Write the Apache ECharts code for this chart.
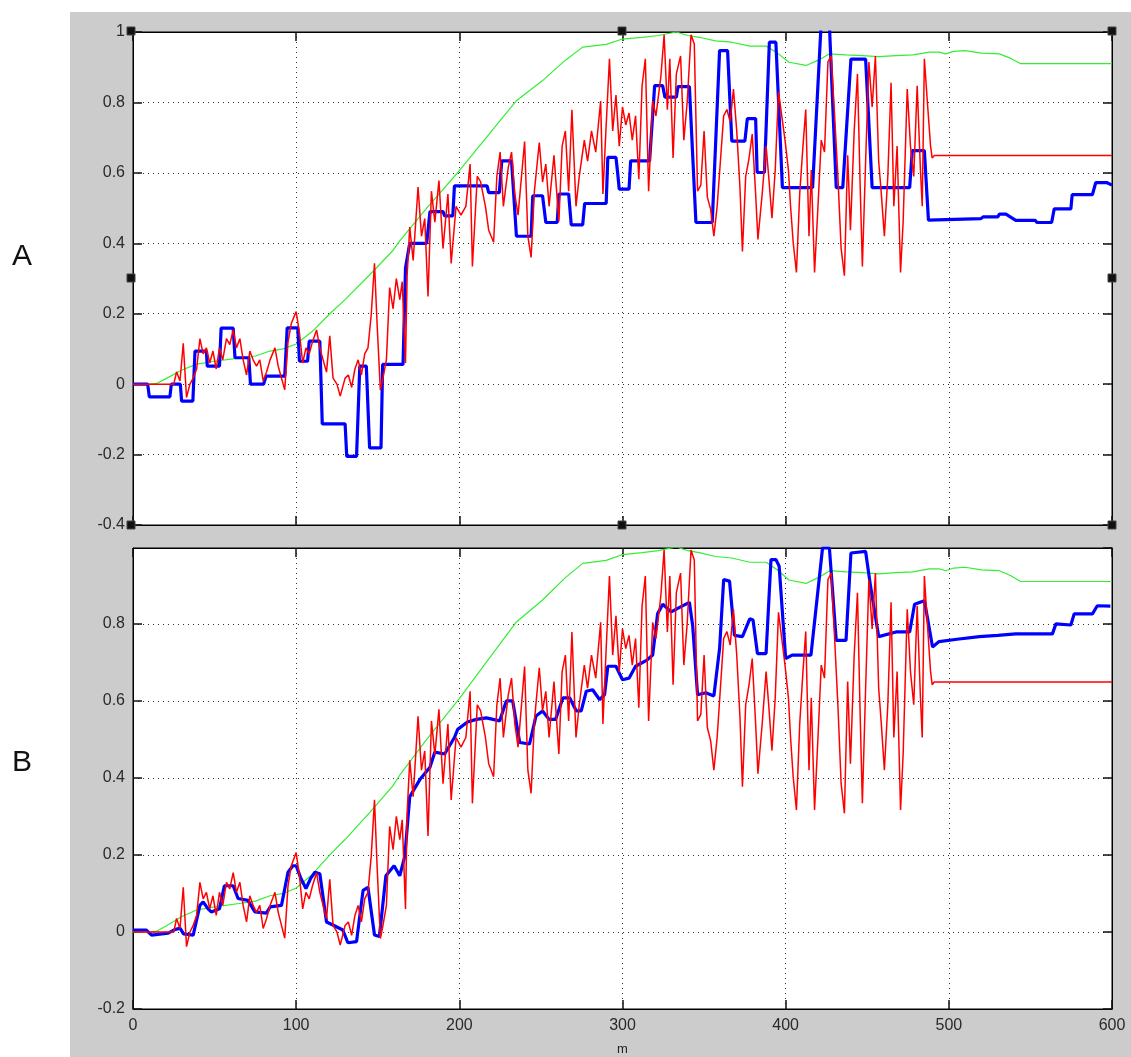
<!DOCTYPE html>
<html><head><meta charset="utf-8">
<script src="https://cdn.jsdelivr.net/npm/echarts@6/dist/echarts.min.js"></script>
<style>html,body{margin:0;padding:0;background:#fff}#c{width:1131px;height:1057px}</style>
</head><body><div id="c"></div>
<script>
const panelLabels = ['A', 'B'];
const xAxisName = 'm';
const xRange = [0, 600, 100];
const yRangeA = [-0.4, 1, 0.2];
const yRangeB = [-0.2, 0.997, 0.2];

const green = [[0,0],[10,0],[14.5,0.002],[20,0.015],[30,0.04],[39,0.057],[50,0.065],[65,0.074],[75,0.08],[84,0.094],[92,0.1],[100,0.114],[110,0.15],[120.6,0.2],[130,0.24],[145,0.31],[159,0.378],[163.5,0.407],[180,0.5],[200,0.606],[220,0.72],[235,0.805],[251,0.862],[265,0.92],[275.6,0.957],[290,0.965],[300,0.98],[312,0.985],[322,0.99],[333,1.0],[340,0.99],[347,0.985],[357,0.975],[367,0.971],[378,0.96],[388,0.96],[395,0.94],[402,0.914],[412.5,0.905],[420,0.92],[427,0.938],[437,0.935],[447,0.933],[457,0.93],[467.6,0.933],[478,0.935],[488,0.943],[494,0.943],[498,0.938],[503,0.945],[510,0.947],[520,0.94],[531,0.938],[538,0.925],[544,0.91],[600,0.91]];

const red = [[0,0],[25,0],[26.7,0.035],[28.8,0.009],[30.8,0.116],[32.8,-0.038],[34.9,0],[36.9,0.017],[39,0.043],[41,0.129],[43,0.086],[45,0.103],[47,0.06],[49,0.094],[51,0.043],[53,0.103],[55,0.069],[57.3,0.129],[59.3,0.112],[61.4,0.154],[63.4,0.103],[65.5,0.129],[67.5,0.069],[69.6,0.026],[71.6,0.094],[73.6,0.069],[75.7,0.051],[77.7,0.069],[79.8,0.009],[81.8,0.034],[84,0.069],[87,0.103],[89,0.051],[91,0.017],[93,-0.016],[95,0.12],[97,0.172],[100,0.206],[102,0.146],[104,0.06],[106,0.103],[108,0.086],[110,0.12],[112.5,0.154],[114.5,0.103],[116.5,0.069],[118.6,0.034],[120.6,0.137],[122.6,0.017],[125,0],[127,-0.034],[130,0.017],[132,0.026],[134,-0.009],[136,0.043],[138,0.069],[140,0.026],[142,0.086],[144,0.103],[146,0.197],[148,0.343],[149.6,0.171],[151.6,-0.017],[153.2,0.017],[155.3,0.069],[157.3,0.274],[159.4,0.214],[161.4,0.3],[163.5,0.24],[165,0.291],[167,0.06],[168,0.308],[169.6,0.446],[171.7,0.351],[174.7,0.56],[176.8,0.42],[178.8,0.47],[180.8,0.249],[182.9,0.548],[185,0.46],[187.5,0.578],[190,0.385],[193,0.54],[195,0.343],[198,0.505],[201,0.48],[204,0.505],[206.6,0.625],[208,0.334],[211,0.59],[213,0.575],[216,0.505],[218,0.437],[221,0.403],[223,0.59],[225,0.659],[227,0.505],[230,0.616],[232,0.659],[234,0.54],[236,0.48],[240,0.689],[242,0.42],[244,0.36],[246,0.548],[249,0.686],[251,0.574],[253,0.625],[255,0.505],[258,0.65],[261,0.462],[263,0.676],[265,0.719],[267,0.548],[269,0.779],[271.5,0.505],[273.5,0.59],[276.6,0.693],[278.6,0.633],[281,0.719],[283.6,0.659],[286.6,0.804],[288,0.54],[290,0.736],[292,0.924],[294,0.719],[296,0.821],[298,0.676],[300,0.787],[302,0.736],[304,0.77],[306,0.693],[308,0.762],[310,0.582],[312,0.847],[314,0.924],[316,0.548],[318.5,0.804],[320.5,0.762],[323.5,0.873],[325.5,0.992],[327.5,0.779],[329,0.924],[331,0.642],[333,0.881],[335.6,0.932],[337.6,0.693],[339.7,0.804],[342,0.992],[344,0.966],[346,0.548],[348,0.565],[350,0.719],[352,0.531],[354,0.497],[356,0.42],[358,0.505],[360,0.633],[362,0.762],[364,0.78],[366,0.745],[368,0.838],[370,0.72],[372,0.557],[373.5,0.377],[375.5,0.59],[377.5,0.64],[379.5,0.71],[381.6,0.54],[383,0.411],[385.6,0.54],[388,0.676],[389.6,0.59],[391.6,0.471],[393.6,0.608],[395.6,0.83],[397.6,0.762],[399.6,0.693],[401.7,0.608],[403,0.505],[404.6,0.403],[406.6,0.317],[408.6,0.54],[410.6,0.676],[412.3,0.78],[414.3,0.42],[415.7,0.608],[417.7,0.317],[419.8,0.505],[421.8,0.693],[423.8,0.659],[425.9,0.915],[427.9,0.932],[430,0.762],[432,0.59],[434,0.385],[436,0.308],[438,0.65],[439.7,0.437],[442,0.72],[444,0.881],[445.6,0.574],[447,0.334],[449,0.633],[451,0.915],[453,0.787],[455,0.932],[457,0.633],[458.5,0.548],[460.5,0.42],[462.6,0.59],[464.6,0.856],[466.3,0.505],[468.3,0.676],[470.4,0.317],[472,0.462],[474.5,0.838],[476.5,0.676],[478.5,0.59],[480.6,0.847],[482.6,0.608],[483.7,0.505],[485,0.924],[486.8,0.804],[488.8,0.676],[489.8,0.642],[491,0.649],[600,0.649]];

const blueA = [[0,0],[9,0],[10,-0.036],[22.6,-0.036],[23.5,0],[29,0],[29.8,-0.048],[36.7,-0.048],[38,0.094],[45,0.094],[45.5,0.051],[53,0.051],[54,0.159],[61.4,0.159],[62.5,0.075],[71,0.075],[72,0],[80,0],[81.6,0.023],[93,0.023],[94.5,0.16],[101,0.16],[102,0.065],[107,0.065],[108,0.122],[114.5,0.122],[116,-0.113],[130,-0.113],[131,-0.205],[137,-0.205],[139,0.051],[143,0.051],[145,-0.181],[152,-0.181],[153,0.056],[165.5,0.056],[167,0.33],[169.6,0.40],[180,0.40],[182,0.49],[190,0.49],[191,0.478],[196,0.478],[197,0.563],[217,0.563],[218,0.544],[224.5,0.544],[226,0.634],[232,0.634],[235,0.42],[244,0.42],[245,0.535],[251,0.535],[253,0.459],[260,0.459],[261,0.54],[267,0.54],[268.6,0.452],[275.6,0.452],[276.8,0.513],[290,0.513],[291,0.644],[296,0.644],[297,0.601],[298,0.554],[304,0.554],[305,0.634],[316.6,0.634],[319.7,0.848],[324.6,0.848],[326,0.815],[333,0.815],[334,0.845],[341,0.845],[345,0.459],[355,0.459],[359.5,0.947],[364.4,0.947],[367,0.69],[375,0.69],[376.5,0.754],[381.6,0.754],[382.5,0.601],[387,0.601],[390,0.971],[394,0.971],[398,0.558],[416.5,0.558],[421.7,1.02],[426.8,1.02],[431,0.558],[435,0.558],[440,0.923],[449,0.923],[453,0.558],[476,0.558],[477.6,0.663],[485,0.663],[487.5,0.466],[519.7,0.47],[521,0.475],[530,0.475],[531,0.483],[535,0.483],[541,0.465],[553,0.465],[554,0.459],[563,0.459],[564.6,0.498],[574.8,0.498],[575.6,0.538],[588,0.538],[590,0.572],[597,0.572],[600,0.565]];

const blueB = [[0,0.005],[8,0.005],[11.4,-0.008],[21.6,-0.003],[25,0.005],[28.8,0.01],[31,-0.005],[36.9,-0.008],[41,0.069],[43,0.078],[46,0.06],[48,0.052],[53,0.06],[56,0.12],[61.4,0.12],[64.4,0.087],[70.4,0.082],[74.7,0.052],[81.8,0.049],[84,0.065],[91,0.069],[95,0.155],[98,0.172],[100,0.172],[103,0.138],[106,0.113],[109,0.14],[111.5,0.155],[114.5,0.151],[118.6,0.026],[122.5,0.018],[128.6,0.005],[131.7,-0.028],[137,-0.025],[141,0.108],[144,0.116],[148,-0.008],[151,-0.012],[155,0.146],[160,0.172],[163.5,0.146],[166.6,0.197],[169.6,0.351],[175.7,0.395],[182,0.428],[185,0.467],[191,0.462],[197,0.505],[199,0.526],[205,0.545],[210.4,0.552],[216.6,0.556],[224.7,0.548],[228.8,0.6],[232.7,0.6],[237,0.492],[243,0.488],[247,0.561],[251,0.574],[255,0.552],[259,0.552],[263.5,0.608],[267.6,0.608],[271.7,0.574],[274.7,0.574],[277.8,0.625],[281.7,0.629],[286,0.603],[289,0.616],[291,0.69],[296,0.69],[300,0.655],[304,0.659],[308,0.69],[315,0.706],[318.5,0.719],[321.5,0.826],[324.7,0.851],[329.8,0.831],[335,0.843],[341,0.856],[343,0.796],[346,0.616],[351,0.621],[356,0.613],[359.5,0.736],[362,0.915],[365.6,0.911],[368.6,0.77],[373.5,0.767],[378,0.813],[380,0.81],[382.7,0.723],[388,0.723],[391,0.967],[394,0.967],[396,0.95],[400,0.71],[404,0.719],[415.5,0.719],[422.6,0.997],[426.8,0.997],[431,0.757],[437,0.757],[440,0.984],[449,0.988],[452,0.898],[457,0.767],[467.6,0.779],[476,0.779],[479,0.851],[485,0.86],[487,0.813],[490,0.74],[494,0.754],[505,0.76],[518.7,0.767],[530,0.77],[541,0.774],[563.5,0.774],[565.6,0.8],[574.8,0.797],[576.8,0.826],[588,0.826],[591,0.847],[599,0.846]];

const FONT = '"Liberation Sans", Arial, Helvetica, sans-serif';
const chart = echarts.init(document.getElementById('c'), null, {renderer: 'canvas'});

function xAx(gi, pos, withLabels) {
  return {
    type: 'value', gridIndex: gi, position: pos,
    min: xRange[0], max: xRange[1], interval: xRange[2],
    axisLine: {show: true, onZero: false, lineStyle: {color: '#000', width: 1}},
    axisTick: {show: true, inside: true, length: 9, lineStyle: {color: '#111', width: 1.5}},
    axisLabel: {show: withLabels, color: '#2a2a2a', fontSize: 16, fontFamily: FONT, margin: 9},
    splitLine: {show: pos === 'bottom', lineStyle: {color: '#333', type: [1, 4], width: 1}},
    name: withLabels ? xAxisName : '', nameLocation: 'middle', nameGap: 34,
    nameTextStyle: {color: '#222', fontSize: 13, fontFamily: FONT}
  };
}
function yAx(gi, pos, r, withLabels) {
  return {
    type: 'value', gridIndex: gi, position: pos,
    min: r[0], max: r[1], interval: r[2],
    axisLine: {show: true, onZero: false, lineStyle: {color: '#000', width: 1}},
    axisTick: {show: true, inside: true, length: 9, lineStyle: {color: '#111', width: 1.5}},
    axisLabel: {show: withLabels, color: '#2a2a2a', fontSize: 16, fontFamily: FONT, margin: 8,
      showMaxLabel: r[1] === 1},
    splitLine: {show: pos === 'left', lineStyle: {color: '#333', type: [1, 4], width: 1}}
  };
}
function line(data, xi, yi, color, width) {
  return {type: 'line', xAxisIndex: xi, yAxisIndex: yi, data: data, showSymbol: false,
    symbol: 'none', clip: true, silent: true, animation: false,
    lineStyle: {color: color, width: width}};
}

const handles = [[131,31],[622,31],[1112,31],[131,278],[1112,278],[131,525],[622,525],[1112,525]];

chart.setOption({
  backgroundColor: '#cccccc',
  animation: false,
  grid: [
    {left: 133, top: 32, width: 979, height: 493, show: true, backgroundColor: '#fff', borderColor: '#000', borderWidth: 1},
    {left: 133, top: 548, width: 979, height: 467, show: true, backgroundColor: '#fff', borderColor: '#000', borderWidth: 1}
  ],
  xAxis: [xAx(0, 'bottom', false), xAx(0, 'top', false), xAx(1, 'bottom', true), xAx(1, 'top', false)],
  yAxis: [yAx(0, 'left', yRangeA, true), yAx(0, 'right', yRangeA, false), yAx(1, 'left', yRangeB, true), yAx(1, 'right', yRangeB, false)],
  series: [
    line(green, 0, 0, '#33ee33', 1.2),
    line(blueA, 0, 0, '#0000ff', 3.2),
    line(red, 0, 0, '#ff0000', 1.5),
    line(green, 2, 2, '#33ee33', 1.2),
    line(blueB, 2, 2, '#0000ff', 3.2),
    line(red, 2, 2, '#ff0000', 1.5)
  ],
  graphic: [
    {type: 'rect', shape: {x: 0, y: 0, width: 70, height: 1057}, style: {fill: '#fff'}, z: 100, silent: true},
    {type: 'rect', shape: {x: 0, y: 0, width: 1131, height: 12}, style: {fill: '#fff'}, z: 100, silent: true},
    {type: 'text', x: 22, y: 257, style: {text: panelLabels[0], font: '30px ' + FONT, fill: '#111', textAlign: 'center', textVerticalAlign: 'middle'}, z: 101},
    {type: 'text', x: 22, y: 763, style: {text: panelLabels[1], font: '30px ' + FONT, fill: '#111', textAlign: 'center', textVerticalAlign: 'middle'}, z: 101}
  ].concat(handles.map(function (h) {
    return {type: 'rect', shape: {x: h[0] - 4, y: h[1] - 4, width: 8, height: 8}, style: {fill: '#111', stroke: '#444'}, z: 102, silent: true};
  }))
});
</script>
</body></html>
